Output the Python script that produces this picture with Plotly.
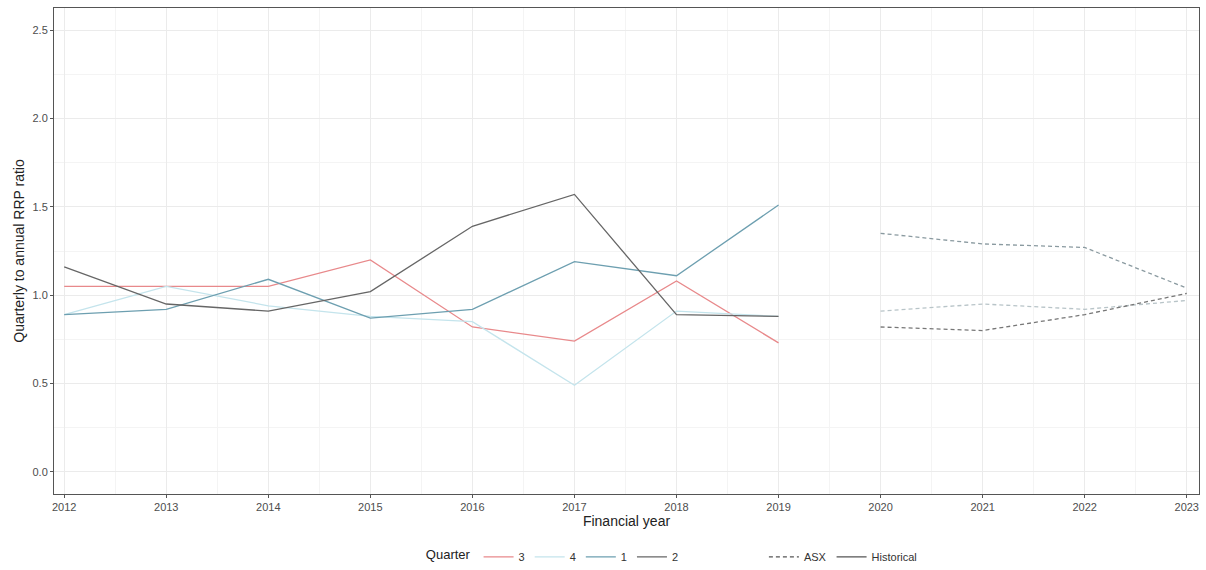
import plotly.graph_objects as go

years_hist = [2012, 2013, 2014, 2015, 2016, 2017, 2018, 2019]
years_asx = [2020, 2021, 2022, 2023]

quarters = ["3", "4", "1", "2"]
hist_q3 = [1.05, 1.05, 1.05, 1.20, 0.82, 0.74, 1.08, 0.73]
hist_q4 = [0.89, 1.05, 0.94, 0.88, 0.85, 0.49, 0.91, 0.88]
hist_q1 = [0.89, 0.92, 1.09, 0.87, 0.92, 1.19, 1.11, 1.51]
hist_q2 = [1.16, 0.95, 0.91, 1.02, 1.39, 1.57, 0.89, 0.88]

asx_upper = [1.35, 1.29, 1.27, 1.04]
asx_middle = [0.91, 0.95, 0.92, 0.97]
asx_lower = [0.82, 0.80, 0.89, 1.01]

colours = {"3": "#e8898b", "4": "#c4e4ec", "1": "#6d9fb0", "2": "#666666"}
hist = {"3": hist_q3, "4": hist_q4, "1": hist_q1, "2": hist_q2}

fig = go.Figure()

for q in quarters:
    fig.add_trace(go.Scatter(x=years_hist, y=hist[q], mode="lines", name=q,
                             line=dict(color=colours[q], width=1.3)))

asx_cols = ["#8a9aa0", "#b8c4c8", "#777777"]
for vals, c in zip([asx_upper, asx_middle, asx_lower], asx_cols):
    fig.add_trace(go.Scatter(x=years_asx, y=vals, mode="lines", showlegend=False,
                             line=dict(color=c, width=1.3, dash="4px,3px")))

# line type legend entries
fig.add_trace(go.Scatter(x=[None], y=[None], mode="lines", name="ASX", legend="legend2",
                         line=dict(color="#555555", width=1.3, dash="4px,3px")))
fig.add_trace(go.Scatter(x=[None], y=[None], mode="lines", name="Historical", legend="legend2",
                         line=dict(color="#555555", width=1.3)))

fig.update_layout(
    width=1206, height=570,
    margin=dict(l=54, r=7, t=8, b=76),
    plot_bgcolor="white", paper_bgcolor="white",
    font=dict(family="Liberation Sans, Arial", size=11, color="#4d4d4d"),
    legend=dict(orientation="h", x=0.323, xanchor="left", yref="container", y=0.023, yanchor="middle",
                title=dict(text="Quarter", side="left", font=dict(size=13, color="#222222")),
                font=dict(size=11, color="#333333"), itemwidth=30),
    legend2=dict(orientation="h", x=0.62, xanchor="left", yref="container", y=0.023, yanchor="middle",
                 font=dict(size=11, color="#333333"), itemwidth=30),
)
fig.update_xaxes(
    title=dict(text="Financial year", font=dict(size=14, color="#222222"), standoff=2),
    range=[2011.9, 2023.12], tickmode="array", tickvals=list(range(2012, 2024)),
    showgrid=True, gridcolor="#ebebeb", gridwidth=1,
    minor=dict(showgrid=True, gridcolor="#f4f4f4", dtick=0.5, tick0=2012),
    showline=True, linecolor="#555555", linewidth=1, mirror=True,
    ticks="outside", ticklen=3, tickcolor="#555555", zeroline=False,
)
fig.update_yaxes(
    title=dict(text="Quarterly to annual RRP ratio", font=dict(size=14, color="#222222"), standoff=4),
    range=[-0.125, 2.625], tickvals=[0, 0.5, 1.0, 1.5, 2.0, 2.5],
    ticktext=["0.0", "0.5", "1.0", "1.5", "2.0", "2.5"],
    showgrid=True, gridcolor="#ebebeb", gridwidth=1,
    minor=dict(showgrid=True, gridcolor="#f4f4f4", dtick=0.25, tick0=0),
    showline=True, linecolor="#555555", linewidth=1, mirror=True,
    ticks="outside", ticklen=3, tickcolor="#555555", zeroline=False,
)

fig.write_html("out.html", config={"displayModeBar": False},
               post_script="document.body.style.margin='0';")
